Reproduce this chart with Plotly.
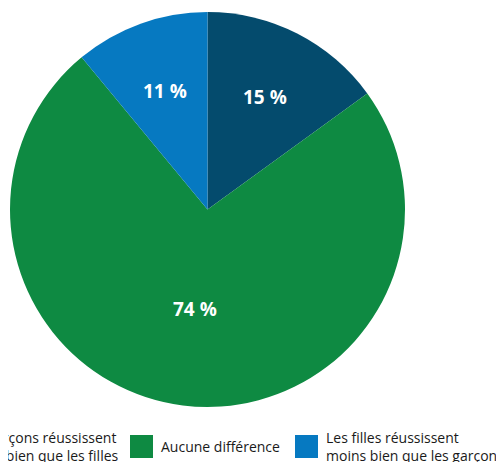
import math
import plotly.graph_objects as go

# Data
categories = [
    "Les garçons réussissent<br>moins bien que les filles",
    "Aucune différence",
    "Les filles réussissent<br>moins bien que les garçons",
]
values = [15, 74, 11]
colors = ["#044b6d", "#0e8a42", "#0679c1"]

W, H = 504, 462
OFF = 8  # the page body adds an 8px margin, so shift everything back


def px(x):
    return (x - OFF) / W


def py(y):
    return 1 - (y - OFF) / H


cx, cy, r = 207.5, 209.5, 197.5

fig = go.Figure()
fig.add_trace(go.Pie(
    labels=categories,
    values=values,
    sort=False,
    direction="clockwise",
    rotation=0,
    marker=dict(colors=colors, line=dict(width=0)),
    textinfo="none",
    hoverinfo="label+percent",
    showlegend=False,
    domain=dict(x=[px(cx - r), px(cx + r)], y=[py(cy + r), py(cy - r)]),
))

# slice labels, placed at each slice's mid angle
total = sum(values)
start = 0
for v in values:
    mid = (start + v / 2) / total * 2 * math.pi
    start += v
    rf = 0.51 if v / total > 0.5 else 0.64
    lx = cx + rf * r * math.sin(mid)
    ly = cy - rf * r * math.cos(mid)
    fig.add_annotation(
        x=px(lx), y=py(ly), xref="paper", yref="paper",
        text=f"{v} %", showarrow=False,
        xanchor="center", yanchor="middle",
        font=dict(family="Open Sans", size=19, color="white", weight="bold"),
    )

# Hand-placed legend (the original legend is wider than the canvas and clipped)
legend_x = [-69, 130, 295]  # left edge of each swatch, px
swatch = 23
for i, (lab, col) in enumerate(zip(categories, colors)):
    x0 = legend_x[i]
    fig.add_shape(
        type="rect", xref="paper", yref="paper",
        x0=px(x0), x1=px(x0 + swatch),
        y0=py(458), y1=py(435),
        fillcolor=col, line=dict(width=0),
    )
    fig.add_annotation(
        x=px(x0 + swatch + 6), y=py(446),
        xref="paper", yref="paper",
        xanchor="left", yanchor="middle", align="left",
        text=lab, showarrow=False,
        font=dict(family="Open Sans", size=14, color="#1a1a1a"),
    )

fig.update_layout(
    width=W, height=H,
    margin=dict(l=0, r=0, t=0, b=0),
    paper_bgcolor="white",
    plot_bgcolor="white",
)

fig.write_html("out.html")
